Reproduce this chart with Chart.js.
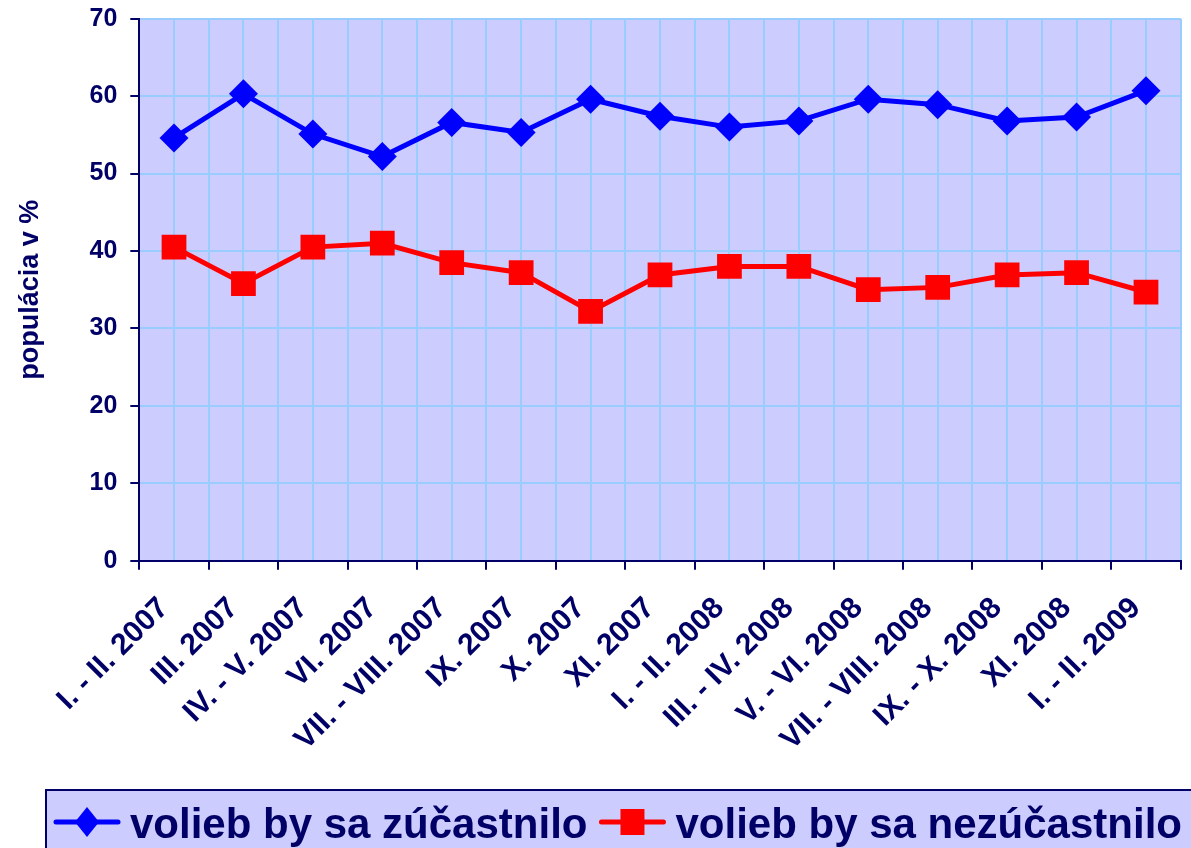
<!DOCTYPE html>
<html>
<head>
<meta charset="utf-8">
<script src="https://cdn.jsdelivr.net/npm/chart.js@4.4.1/dist/chart.umd.min.js"></script>
<style>
  html, body { margin: 0; padding: 0; background: #FFFFFF; }
  canvas { display: block; }
</style>
</head>
<body>
<canvas id="lineGraph" width="1191" height="848"></canvas>
<script>
const periods = ['I. - II. 2007', 'III. 2007', 'IV. - V. 2007', 'VI. 2007', 'VII. - VIII. 2007', 'IX. 2007', 'X. 2007', 'XI. 2007',
    'I. - II. 2008', 'III. - IV. 2008', 'V. - VI. 2008', 'VII. - VIII. 2008', 'IX. - X. 2008', 'XI. 2008', 'I. - II. 2009'];
const wouldVote = [54.6, 60.3, 55.1, 52.2, 56.6, 55.3, 59.6, 57.4, 56.0, 56.8, 59.6, 58.9, 56.8, 57.3, 60.7];
const wouldNotVote = [40.5, 35.8, 40.5, 41.0, 38.5, 37.2, 32.2, 36.9, 38.0, 38.0, 35.0, 35.3, 36.9, 37.2, 34.7];
const yTicks = [0, 10, 20, 30, 40, 50, 60, 70];
const seriesNames = ['volieb by sa zúčastnilo', 'volieb by sa nezúčastnilo'];

const navy = '#000066';
const plotFill = '#CCCCFF';
const gridBlue = '#99CCFF';
const fontFamily = 'Arial, "Liberation Sans", sans-serif';

document.addEventListener('DOMContentLoaded', function() {
    const ctx = document.getElementById('lineGraph').getContext('2d');

    // lavender plot background
    const plotBackground = {
        id: 'plotBackground',
        beforeDraw(chart) {
            const a = chart.chartArea;
            chart.ctx.save();
            chart.ctx.fillStyle = plotFill;
            chart.ctx.fillRect(a.left, a.top, a.right - a.left, a.bottom - a.top);
            chart.ctx.restore();
        }
    };

    // framed legend at the bottom, runs off the page like the original
    const boxLegend = {
        id: 'boxLegend',
        afterDraw(chart) {
            const c = chart.ctx;
            c.save();
            c.fillStyle = plotFill;
            c.strokeStyle = navy;
            c.lineWidth = 2;
            c.fillRect(46, 790, 1200, 100);
            c.strokeRect(46, 790, 1200, 100);

            c.font = 'bold 42px ' + fontFamily;
            c.textBaseline = 'alphabetic';
            const lineY = 822;
            let x = 56;
            chart.data.datasets.forEach(function(ds) {
                c.strokeStyle = ds.borderColor;
                c.lineWidth = 5;
                c.lineCap = 'round';
                c.beginPath();
                c.moveTo(x, lineY);
                c.lineTo(x + 62, lineY);
                c.stroke();

                c.fillStyle = ds.borderColor;
                const mx = x + 31;
                c.beginPath();
                if (ds.pointStyle === 'rectRot') {
                    c.moveTo(mx, lineY - 15);
                    c.lineTo(mx + 12, lineY);
                    c.lineTo(mx, lineY + 15);
                    c.lineTo(mx - 12, lineY);
                    c.closePath();
                } else {
                    c.rect(mx - 12, lineY - 13, 24, 26);
                }
                c.fill();

                c.fillStyle = navy;
                c.fillText(ds.label, x + 74, 838);
                x += 74 + c.measureText(ds.label).width + 14;
            });
            c.restore();
        }
    };

    new Chart(ctx, {
        type: 'line',
        data: {
            datasets: [
                {
                    label: seriesNames[0],
                    data: wouldVote.map((v, i) => ({ x: i, y: v })),
                    borderColor: '#0000FF',
                    backgroundColor: '#0000FF',
                    borderWidth: 5,
                    pointStyle: 'rectRot',
                    pointRadius: 14.5,
                    pointBorderWidth: 0,
                    pointBackgroundColor: '#0000FF',
                    tension: 0
                },
                {
                    label: seriesNames[1],
                    data: wouldNotVote.map((v, i) => ({ x: i, y: v })),
                    borderColor: '#FF0000',
                    backgroundColor: '#FF0000',
                    borderWidth: 5,
                    pointStyle: 'rect',
                    pointRadius: 17.5,
                    pointBorderWidth: 0,
                    pointBackgroundColor: '#FF0000',
                    tension: 0
                }
            ]
        },
        options: {
            responsive: false,
            devicePixelRatio: 1,
            animation: false,
            layout: {
                autoPadding: false,
                padding: { left: 0, top: 18.7, right: 10.3, bottom: 87.3 }
            },
            scales: {
                x: {
                    type: 'linear',
                    min: -0.5,
                    max: periods.length - 0.5,
                    afterBuildTicks: function(scale) {
                        const t = [];
                        for (let k = 0; k <= periods.length * 2; k++) t.push({ value: -0.5 + k * 0.5 });
                        scale.ticks = t;
                    },
                    afterFit: function(scale) {
                        scale.height = 200;
                        scale.paddingLeft = 0;
                        scale.paddingRight = 0;
                    },
                    grid: {
                        color: gridBlue,
                        lineWidth: 2,
                        tickLength: 9,
                        tickWidth: 2,
                        tickColor: c => Number.isInteger(c.tick.value) ? 'rgba(0,0,0,0)' : navy
                    },
                    border: { color: navy, width: 2 },
                    ticks: {
                        autoSkip: false,
                        maxRotation: 45,
                        minRotation: 45,
                        padding: 21,
                        labelOffset: -10,
                        color: navy,
                        font: { family: fontFamily, size: 30, weight: 'bold' },
                        callback: v => Number.isInteger(v) ? periods[v] : ''
                    }
                },
                y: {
                    min: 0,
                    max: 70,
                    afterBuildTicks: function(scale) {
                        scale.ticks = yTicks.map(v => ({ value: v }));
                    },
                    afterFit: function(scale) {
                        scale.width = 139.3;
                        scale.paddingTop = 0;
                        scale.paddingBottom = 0;
                    },
                    grid: {
                        color: gridBlue,
                        lineWidth: 2,
                        tickLength: 9,
                        tickWidth: 2,
                        tickColor: navy
                    },
                    border: { color: navy, width: 2 },
                    ticks: {
                        padding: 13,
                        color: navy,
                        font: { family: fontFamily, size: 25, weight: 'bold' }
                    },
                    title: {
                        display: true,
                        text: 'populácia v %',
                        color: navy,
                        font: { family: fontFamily, size: 27, weight: 'bold' },
                        padding: { top: 14, bottom: 0 }
                    }
                }
            },
            plugins: {
                legend: { display: false },
                tooltip: { enabled: false }
            }
        },
        plugins: [plotBackground, boxLegend]
    });
});
</script>
</body>
</html>
